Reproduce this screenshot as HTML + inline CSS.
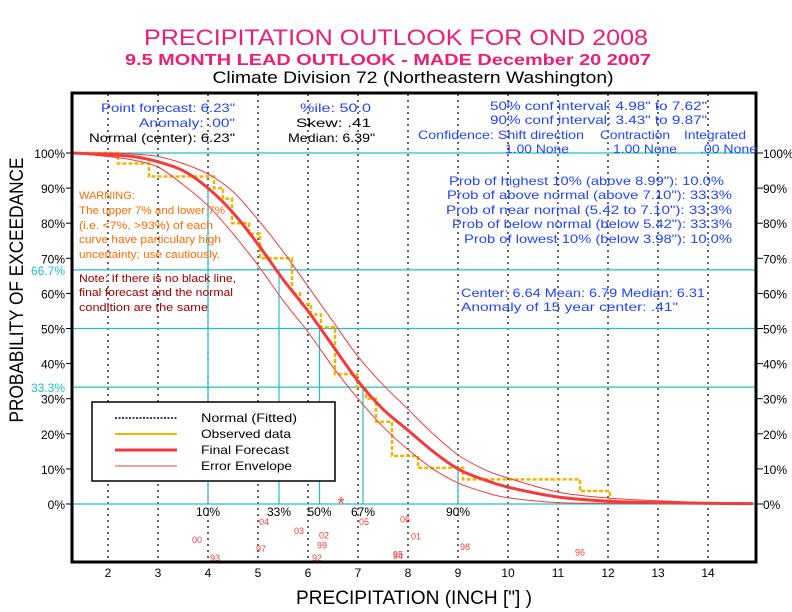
<!DOCTYPE html>
<html><head><meta charset="utf-8"><style>
html,body{margin:0;padding:0;background:#fff;}
svg{display:block;font-family:"Liberation Sans",sans-serif;}
</style></head><body>
<svg id="chart" width="792" height="612" viewBox="0 0 792 612" xmlns="http://www.w3.org/2000/svg">
<rect width="792" height="612" fill="#fff"/>
<text x="396" y="45" text-anchor="middle" font-size="22" fill="#e8207a" textLength="504" lengthAdjust="spacingAndGlyphs">PRECIPITATION OUTLOOK FOR OND 2008</text>
<text x="388" y="65" text-anchor="middle" font-size="16" font-weight="bold" fill="#e8207a" textLength="526" lengthAdjust="spacingAndGlyphs">9.5 MONTH LEAD OUTLOOK  - MADE December 20 2007</text>
<text x="413" y="83" text-anchor="middle" font-size="17" fill="#000" textLength="401" lengthAdjust="spacingAndGlyphs">Climate Division 72 (Northeastern Washington)</text>
<g id="grid"></g>
<g id="plot"></g>
<rect x="72" y="93" width="684" height="469" fill="none" stroke="#000" stroke-width="3"/>
<g font-size="12" fill="#2244ff">
<text x="235" y="112" text-anchor="end" textLength="134" lengthAdjust="spacingAndGlyphs">Point forecast: 6.23"</text>
<text x="235" y="127" text-anchor="end" textLength="96" lengthAdjust="spacingAndGlyphs">Anomaly:  .00"</text>
<text x="235" y="142" text-anchor="end" fill="#000" textLength="146" lengthAdjust="spacingAndGlyphs">Normal (center): 6.23"</text>
<text x="371" y="112" text-anchor="end" textLength="71" lengthAdjust="spacingAndGlyphs">%ile:  50.0</text>
<text x="371" y="127" text-anchor="end" fill="#000" textLength="75" lengthAdjust="spacingAndGlyphs">Skew:    .41</text>
<text x="375" y="142" text-anchor="end" fill="#000" textLength="87" lengthAdjust="spacingAndGlyphs">Median: 6.39"</text>
<text x="707" y="110" text-anchor="end" textLength="217" lengthAdjust="spacingAndGlyphs">50% conf interval: 4.98" to 7.62"</text>
<text x="707" y="124" text-anchor="end" textLength="217" lengthAdjust="spacingAndGlyphs">90% conf interval: 3.43" to 9.87"</text>
<text x="418" y="139" textLength="166" lengthAdjust="spacingAndGlyphs">Confidence: Shift direction</text>
<text x="600" y="139" textLength="70" lengthAdjust="spacingAndGlyphs">Contraction</text>
<text x="684" y="139" textLength="62" lengthAdjust="spacingAndGlyphs">Integrated</text>
<text x="505" y="153" textLength="64" lengthAdjust="spacingAndGlyphs">1.00 None</text>
<text x="613" y="153" textLength="64" lengthAdjust="spacingAndGlyphs">1.00 None</text>
<text x="700" y="153" textLength="57" lengthAdjust="spacingAndGlyphs">.00 None</text>
<text x="724" y="185" text-anchor="end" textLength="275" lengthAdjust="spacingAndGlyphs">Prob of highest 10% (above 8.99"): 10.0%</text>
<text x="732" y="199" text-anchor="end" textLength="285" lengthAdjust="spacingAndGlyphs">Prob of above normal (above 7.10"): 33.3%</text>
<text x="732" y="214" text-anchor="end" textLength="286" lengthAdjust="spacingAndGlyphs">Prob of near normal (5.42 to 7.10"): 33.3%</text>
<text x="732" y="228" text-anchor="end" textLength="280" lengthAdjust="spacingAndGlyphs">Prob of below normal (below 5.42"): 33.3%</text>
<text x="732" y="243" text-anchor="end" textLength="268" lengthAdjust="spacingAndGlyphs">Prob of lowest 10% (below 3.98"): 10.0%</text>
<text x="461" y="297" textLength="244" lengthAdjust="spacingAndGlyphs">Center: 6.64 Mean: 6.79 Median: 6.31</text>
<text x="461" y="311" textLength="217" lengthAdjust="spacingAndGlyphs">Anomaly of 15 year center:  .41"</text>
</g>
<g font-size="11" fill="#ff6a00">
<text x="79" y="199">WARNING:</text>
<text x="79" y="214" textLength="146" lengthAdjust="spacingAndGlyphs">The upper 7% and lower 7%</text>
<text x="79" y="229" textLength="134" lengthAdjust="spacingAndGlyphs">(i.e. &lt;7%, &gt;93%) of each</text>
<text x="79" y="243" textLength="142" lengthAdjust="spacingAndGlyphs">curve have particulary high</text>
<text x="79" y="258" textLength="141" lengthAdjust="spacingAndGlyphs">uncertainty; use cautiously.</text>
</g>
<g font-size="11" fill="#a00000">
<text x="79" y="282" textLength="157" lengthAdjust="spacingAndGlyphs">Note: If there is no black line,</text>
<text x="79" y="296" textLength="154" lengthAdjust="spacingAndGlyphs">final forecast and the normal</text>
<text x="79" y="311" textLength="129" lengthAdjust="spacingAndGlyphs">condition are the same</text>
</g>
<g>
<rect x="92" y="402" width="243" height="79" fill="#fff" stroke="#000" stroke-width="1.5"/>
<line x1="115" y1="418" x2="177" y2="418" stroke="#000" stroke-width="1.5" stroke-dasharray="2,1.5"/>
<line x1="115" y1="434" x2="177" y2="434" stroke="#f5b400" stroke-width="2"/>
<line x1="115" y1="450" x2="177" y2="450" stroke="#f03c3c" stroke-width="3"/>
<line x1="115" y1="466" x2="177" y2="466" stroke="#f03c3c" stroke-width="1"/>
<g font-size="12" fill="#000">
<text x="201" y="422" textLength="96" lengthAdjust="spacingAndGlyphs">Normal (Fitted)</text>
<text x="201" y="438" textLength="90" lengthAdjust="spacingAndGlyphs">Observed data</text>
<text x="201" y="454" textLength="88" lengthAdjust="spacingAndGlyphs">Final Forecast</text>
<text x="201" y="470" textLength="91" lengthAdjust="spacingAndGlyphs">Error Envelope</text>
</g>
</g>
<text transform="translate(23,290) rotate(-90)" text-anchor="middle" font-size="19" fill="#000" textLength="265" lengthAdjust="spacingAndGlyphs">PROBABILITY OF EXCEEDANCE</text>
<text x="414" y="604" text-anchor="middle" font-size="19" fill="#000" textLength="236" lengthAdjust="spacingAndGlyphs">PRECIPITATION (INCH ["] )</text>
<g id="axes"></g>
</svg>
<script>
const forecastX = [1.3,2,2.5,3,3.5,4,4.5,5,5.5,6,6.5,7,7.5,8,8.5,9,9.5,10,11,12,13,14,14.9];
const forecastP = [100,99.5,99,97.5,95,90,83,74,64,55,45,35,27,21,15,10,7,4.8,2,0.8,0.4,0.2,0.1];
const upperP    = [100,100,99.7,99,97,94,89,81,72,62,52,42,34,27,20,14,10,7.4,3.4,1.7,0.9,0.4,0.2];
const lowerP    = [100,99,98,96,91,85,77,68,58,49,39,30,22,15.5,10,6,3.5,1.8,0.4,0.2,0.1,0.1,0];
const obsStepX  = [2.2,2.82,4.12,4.3,4.48,4.82,5.04,5.68,5.84,6.06,6.26,6.54,6.98,7.16,7.36,7.68,8.2,9.1,11.44,12.04];
const obsStepP  = [97,93.3,90,87,80,77,70,60,57,54,50.4,37,33.3,30,23.4,13.7,10.3,7,3.7,0];
const pctLabels = ["10%","33%","50%","67%","90%"];
const pctValues = [4.0,5.42,6.23,7.10,9.0];
const pctLevels = [90,66.7,50,33.3,10];
const yearLabels = ["00","93","04","97","03","02","99","92","05","06","01","95","94","98","96"];
const yearValues = [3.78,4.14,5.12,5.06,5.82,6.32,6.28,6.18,7.12,7.94,8.16,7.8,7.8,9.14,11.44];
const yearRows   = [2,4,0,3,1,1.5,2.6,4,0,-0.3,1.6,3.6,3.8,2.8,3.4];
const xTicks = [2,3,4,5,6,7,8,9,10,11,12,13,14];
const yTicks = [0,10,20,30,40,50,60,70,80,90,100];

const NS="http://www.w3.org/2000/svg";
const X = v => 8 + 50*v;
const Y = p => 504 - 3.51*p;
function mk(tag, parent, attrs){const e=document.createElementNS(NS,tag);for(const k in attrs)e.setAttribute(k,attrs[k]);parent.appendChild(e);return e;}
const grid=document.getElementById('grid'), plot=document.getElementById('plot'), axes=document.getElementById('axes');

xTicks.forEach(v=>{
  const l=mk('line',grid,{x1:X(v),x2:X(v),y1:94,y2:561,stroke:'#000','stroke-width':1.2,'stroke-dasharray':'2,4'});
  
  
  const t=mk('text',axes,{x:X(v),y:577,'text-anchor':'middle','font-size':12,fill:'#000'});
  t.textContent=v;
  
  
});
[100,50,0,66.7,33.3].forEach(p=>{
  const l=mk('line',grid,{x1:72,x2:756,y1:Y(p),y2:Y(p),stroke:'#20c0c8','stroke-width':1.2});
  
  
});
yTicks.forEach(p=>{
  const t=mk('text',axes,{x:65,y:Y(p)+5,'text-anchor':'end','font-size':12,fill:'#000'});
  t.textContent=p+'%';
  
  
  const t2=mk('text',axes,{x:763,y:Y(p)+5,'font-size':12,fill:'#000'});
  t2.textContent=p+'%';
  
  
  mk('line',axes,{x1:66,x2:72,y1:Y(p),y2:Y(p),stroke:'#000'});
  mk('line',axes,{x1:756,x2:763,y1:Y(p),y2:Y(p),stroke:'#000'});
});
[66.7,33.3].forEach(p=>{
  const t=mk('text',axes,{x:65,y:Y(p)+5,'text-anchor':'end','font-size':12,fill:'#20c0c8'});
  t.textContent=p+'%';
  
  
});
pctValues.forEach((v,i)=>{
  const l=mk('line',grid,{x1:X(v),x2:X(v),y1:Y(0),y2:Y(pctLevels[i]),stroke:'#20c0c8','stroke-width':1.2});
  
  
  const t=mk('text',plot,{x:X(v),y:516,'text-anchor':'middle','font-size':12,fill:'#000'});
  t.textContent=pctLabels[i];
  
  
});
function smooth(xs,ps){
  let d='M'+X(xs[0])+','+Y(ps[0]);
  for(let i=0;i<xs.length-1;i++){
    const x0=X(xs[i]),y0=Y(ps[i]),x1=X(xs[i+1]),y1=Y(ps[i+1]);
    const xp=X(xs[Math.max(i-1,0)]),yp=Y(ps[Math.max(i-1,0)]);
    const xn=X(xs[Math.min(i+2,xs.length-1)]),yn=Y(ps[Math.min(i+2,xs.length-1)]);
    d+=` C${(x0+(x1-xp)/6).toFixed(1)},${(y0+(y1-yp)/6).toFixed(1)} ${(x1-(xn-x0)/6).toFixed(1)},${(y1-(yn-y0)/6).toFixed(1)} ${x1.toFixed(1)},${y1.toFixed(1)}`;
  }
  return d;
}
let od='M'+X(1.3)+','+Y(100); let prev=100;
obsStepX.forEach((v,i)=>{od+=` L${X(v)},${Y(prev)} L${X(v)},${Y(obsStepP[i])}`;prev=obsStepP[i];});
const obs=mk('path',plot,{d:od,fill:'none',stroke:'#f5b400','stroke-width':2.5,'stroke-dasharray':'4,2'});


const nrm=mk('path',plot,{d:smooth(forecastX,forecastP),fill:'none',stroke:'#000','stroke-width':1.5,'stroke-dasharray':'2,2'});


const up=mk('path',plot,{d:smooth(forecastX,upperP),fill:'none',stroke:'#f03c3c','stroke-width':1});


const lo=mk('path',plot,{d:smooth(forecastX,lowerP),fill:'none',stroke:'#f03c3c','stroke-width':1});


const fc=mk('path',plot,{d:smooth(forecastX,forecastP),fill:'none',stroke:'#f03c3c','stroke-width':3});


yearLabels.forEach((y,i)=>{
  const t=mk('text',plot,{x:X(yearValues[i]),y:525+yearRows[i]*9,'text-anchor':'middle','font-size':9,fill:'#f03c3c'});
  t.textContent=y;
  
  
});
const star=mk('text',plot,{x:X(6.66),y:510,'text-anchor':'middle','font-size':18,fill:'#f03c3c'});
star.textContent='*';


</script>
</body></html>
